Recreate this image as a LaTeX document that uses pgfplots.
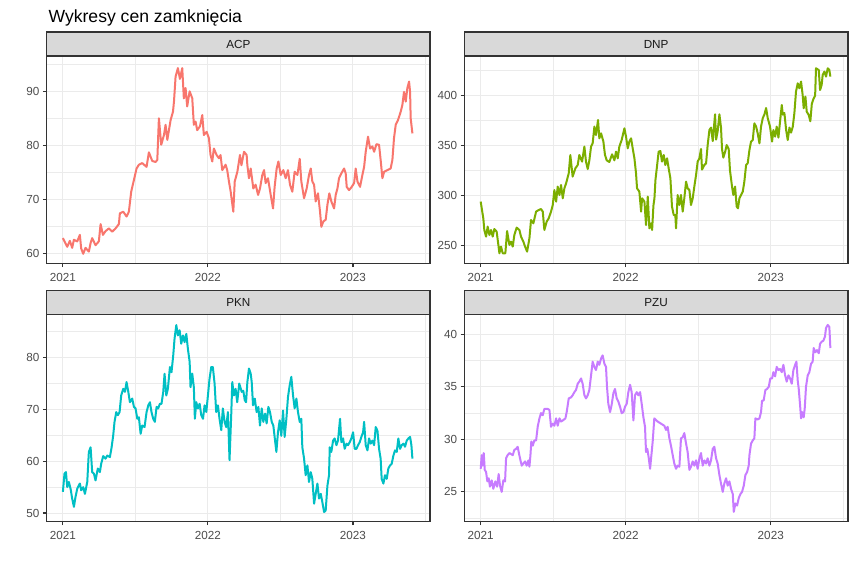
\documentclass[border=0pt]{standalone}
\usepackage{pgfplots}
\pgfplotsset{compat=1.18}
\usepackage{fontspec}
\setmainfont{Liberation Sans}

\definecolor{cACP}{HTML}{F8766D}
\definecolor{cDNP}{HTML}{7CAE00}
\definecolor{cPKN}{HTML}{00BFC4}
\definecolor{cPZU}{HTML}{C77CFF}
\definecolor{gridc}{HTML}{EBEBEB}
\definecolor{framec}{HTML}{333333}
\definecolor{stripc}{HTML}{D9D9D9}
\definecolor{tickc}{HTML}{4D4D4D}

\pgfplotsset{
  panel/.style={
    scale only axis, width=383.6pt, anchor=north west,
    xmin=2020.887, xmax=2023.532,
    xtick={2021,2022,2023}, xticklabels={2021,2022,2023},
    minor xtick={2021.5,2022.5,2023.5},
    xmajorgrids, ymajorgrids, xminorgrids, yminorgrids,
    major grid style={gridc, line width=1pt},
    minor grid style={gridc, line width=0.6pt},
    axis line style={framec, line width=1.3pt},
    tick align=outside, tick pos=left,
    major tick length=3.7pt, minor tick length=0pt,
    every tick/.style={framec, line width=1.1pt},
    tick label style={font=\fontsize{11.7}{13}\selectfont, text=tickc},
    xticklabel shift=2.5pt,
    /pgf/number format/assume math mode=true,
    every axis plot/.append style={no marks, line width=2pt, line join=round},
  },
}

\begin{document}
\begin{tikzpicture}
\useasboundingbox (0,0) rectangle (856pt,-566pt);
\fill[white] (0,0) rectangle (856pt,-566pt);

\node[anchor=base west, font=\fontsize{17.6}{20}\selectfont] at (45pt,-22pt) {Wykresy cen zamknięcia};

% ACP
\begin{axis}[panel, name=acp, at={(46.5pt,-56pt)}, height=207.5pt,
  ymin=58.1, ymax=96.54, ytick={60,70,80,90}, minor ytick={65,75,85,95}]
\addplot[cACP] coordinates {
(2021.000,62.8) (2021.011,62.2) (2021.030,61.2) (2021.048,62.3) (2021.064,61.0) (2021.076,62.5) (2021.099,62.2) (2021.117,63.4) (2021.126,60.9) (2021.140,59.9) (2021.156,61.0) (2021.179,60.3) (2021.191,61.9) (2021.202,62.8) (2021.225,61.5) (2021.248,62.2) (2021.260,65.4) (2021.276,63.4) (2021.294,64.1) (2021.317,64.6) (2021.340,64.0) (2021.363,64.6) (2021.386,65.4) (2021.393,67.4) (2021.416,67.7) (2021.439,66.8) (2021.455,67.7) (2021.471,71.4) (2021.490,73.6) (2021.508,75.7) (2021.524,76.4) (2021.547,76.7) (2021.577,76.0) (2021.593,78.7) (2021.616,77.1) (2021.639,76.9) (2021.651,77.3) (2021.662,85.0) (2021.678,80.1) (2021.697,81.9) (2021.708,83.8) (2021.720,81.0) (2021.743,84.7) (2021.759,86.2) (2021.766,88.1) (2021.777,92.7) (2021.793,94.3) (2021.807,92.3) (2021.823,94.3) (2021.834,88.7) (2021.846,90.6) (2021.857,87.2) (2021.874,90.0) (2021.892,88.7) (2021.903,83.8) (2021.915,84.4) (2021.926,82.8) (2021.945,83.5) (2021.961,85.6) (2021.972,81.9) (2021.991,82.5) (2022.007,81.3) (2022.018,78.2) (2022.030,77.0) (2022.041,79.4) (2022.060,78.2) (2022.076,77.6) (2022.087,78.2) (2022.099,75.4) (2022.122,76.4) (2022.133,75.4) (2022.145,73.3)
(2022.157,71.4) (2022.175,67.7) (2022.185,73.3) (2022.203,75.1) (2022.221,78.2) (2022.231,76.3) (2022.249,78.8) (2022.267,78.2) (2022.272,76.3) (2022.283,73.9) (2022.295,75.7) (2022.313,72.0) (2022.329,72.7) (2022.346,70.8) (2022.359,72.0) (2022.375,74.5) (2022.387,75.4) (2022.398,73.0) (2022.414,73.9) (2022.433,70.8) (2022.449,68.3) (2022.460,72.3) (2022.474,75.7) (2022.486,77.0) (2022.502,74.5) (2022.520,75.4) (2022.536,73.9) (2022.552,75.4) (2022.566,72.7) (2022.582,71.4) (2022.598,75.1) (2022.617,74.5) (2022.633,77.5) (2022.644,73.3) (2022.663,70.2) (2022.681,72.0) (2022.697,74.5) (2022.709,75.7) (2022.720,73.3) (2022.732,72.7) (2022.743,69.6) (2022.759,71.1) (2022.773,67.7) (2022.782,64.9) (2022.796,65.9) (2022.812,66.2) (2022.824,69.0) (2022.837,71.1) (2022.851,69.6) (2022.870,68.3) (2022.881,70.8) (2022.893,72.0) (2022.904,73.9) (2022.920,74.8) (2022.939,75.7) (2022.950,74.8) (2022.957,72.3) (2022.973,71.7) (2022.989,72.2) (2023.008,73.0) (2023.019,75.7) (2023.031,73.3) (2023.049,72.3) (2023.065,74.5) (2023.077,76.0) (2023.088,78.8) (2023.104,81.6) (2023.118,79.4) (2023.134,79.8) (2023.146,78.8) (2023.162,80.2) (2023.180,80.1) (2023.192,77.0) (2023.203,73.9) (2023.215,75.1) (2023.238,75.4) (2023.260,75.7) (2023.272,77.3) (2023.283,81.3) (2023.295,83.8) (2023.311,84.7) (2023.329,86.2) (2023.341,87.5) (2023.352,89.9) (2023.364,88.1) (2023.375,90.6) (2023.387,91.8) (2023.394,89.9) (2023.398,85.0) (2023.410,82.2)
};
\end{axis}

% DNP
\begin{axis}[panel, name=dnp, at={(464.3pt,-56pt)}, height=207.5pt,
  ymin=231.8, ymax=439.3, ytick={250,300,350,400}, minor ytick={275,325,375,425}]
\addplot[cDNP] coordinates {
(2021.000,293.7) (2021.009,285.3) (2021.018,277.0) (2021.025,265.3) (2021.037,258.7) (2021.048,268.7) (2021.060,260.3) (2021.071,265.3) (2021.083,258.7) (2021.094,266.3) (2021.110,263.7) (2021.122,250.3) (2021.129,242.0) (2021.140,248.7) (2021.152,242.0) (2021.170,242.0) (2021.182,264.3) (2021.198,250.3) (2021.209,253.7) (2021.221,248.7) (2021.232,260.3) (2021.248,267.7) (2021.267,265.3) (2021.278,258.7) (2021.294,253.7) (2021.306,248.7) (2021.320,243.7) (2021.336,257.0) (2021.347,275.3) (2021.363,272.0) (2021.382,283.7) (2021.400,285.3) (2021.416,286.3) (2021.428,283.7) (2021.439,265.3) (2021.455,273.7) (2021.469,277.0) (2021.485,283.7) (2021.497,290.3) (2021.508,305.3) (2021.520,293.7) (2021.531,308.7) (2021.543,300.3) (2021.554,310.3) (2021.566,297.0) (2021.577,307.0) (2021.589,312.0) (2021.607,322.0) (2021.618,340.3) (2021.634,318.7) (2021.653,327.0) (2021.669,330.3) (2021.680,340.3) (2021.699,333.7) (2021.715,348.7) (2021.726,333.7) (2021.738,326.3) (2021.749,334.7) (2021.761,348.7) (2021.772,352.0) (2021.784,368.7) (2021.795,360.3) (2021.809,375.3) (2021.818,357.0) (2021.830,362.0) (2021.846,353.7) (2021.857,340.3) (2021.869,335.0) (2021.887,333.3) (2021.906,341.0) (2021.922,335.0) (2021.933,343.7) (2021.945,337.0) (2021.956,348.7) (2021.972,355.3) (2021.991,367.0) (2022.002,358.7) (2022.014,347.0) (2022.025,353.7) (2022.037,357.0) (2022.048,347.0) (2022.060,337.0) (2022.071,322.0) (2022.078,307.0) (2022.094,303.7) (2022.106,283.7) (2022.113,297.0) (2022.129,293.7) (2022.140,270.3) (2022.152,298.7) (2022.163,267.0) (2022.175,272.0) (2022.182,265.3) (2022.191,289.7)
(2022.198,297.0) (2022.205,315.3) (2022.218,332.0) (2022.227,343.7) (2022.239,344.3) (2022.250,333.7) (2022.262,340.3) (2022.273,330.3) (2022.285,337.0) (2022.296,327.0) (2022.308,317.0) (2022.319,288.7) (2022.331,280.3) (2022.342,280.3) (2022.347,267.0) (2022.358,300.3) (2022.370,290.3) (2022.381,300.3) (2022.393,283.7) (2022.404,297.0) (2022.416,313.7) (2022.427,307.0) (2022.439,305.3) (2022.450,290.3) (2022.462,297.0) (2022.473,308.7) (2022.485,320.3) (2022.496,333.7) (2022.508,337.0) (2022.519,346.3) (2022.526,325.7) (2022.542,330.3) (2022.554,332.0) (2022.565,350.3) (2022.577,365.3) (2022.588,367.7) (2022.600,354.3) (2022.616,381.0) (2022.623,355.7) (2022.634,364.0) (2022.646,381.0) (2022.657,367.7) (2022.664,346.3) (2022.673,337.7) (2022.687,344.3) (2022.696,350.3) (2022.710,346.3) (2022.719,324.7) (2022.733,308.7) (2022.742,300.3) (2022.754,308.7) (2022.765,288.7) (2022.774,287.0) (2022.784,297.0) (2022.795,300.3) (2022.807,303.7) (2022.818,313.7) (2022.830,330.3) (2022.841,332.0) (2022.853,345.3) (2022.864,353.7) (2022.876,355.3) (2022.887,372.0) (2022.899,368.7) (2022.910,362.0) (2022.922,352.0) (2022.933,368.7) (2022.945,377.3) (2022.956,380.7) (2022.968,387.3) (2022.979,377.3) (2022.995,368.7) (2023.009,353.7) (2023.018,365.3) (2023.030,358.7) (2023.041,368.7) (2023.053,357.7) (2023.064,373.7) (2023.076,390.3) (2023.083,380.7) (2023.094,382.3) (2023.106,365.3) (2023.117,355.3) (2023.129,367.7) (2023.140,362.7) (2023.152,368.7) (2023.163,382.3) (2023.174,403.7) (2023.186,412.0) (2023.197,407.0) (2023.209,413.7) (2023.220,400.3) (2023.227,387.0) (2023.239,398.7) (2023.248,383.7) (2023.262,380.3) (2023.273,374.0) (2023.283,391.3) (2023.294,396.3) (2023.306,399.7) (2023.312,427.0) (2023.331,425.3) (2023.340,405.3) (2023.351,410.3) (2023.358,420.3) (2023.370,423.7) (2023.381,418.7) (2023.393,427.0) (2023.404,425.3) (2023.411,418.7)
};
\end{axis}

% PKN
\begin{axis}[panel, name=pkn, at={(46.5pt,-314.7pt)}, height=206.6pt,
  ymin=48.4, ymax=88.3, ytick={50,60,70,80}, minor ytick={55,65,75,85}]
\addplot[cPKN] coordinates {
(2021.000,54.1) (2021.011,57.6) (2021.021,57.9) (2021.030,55.0) (2021.041,56.0) (2021.053,54.7) (2021.064,52.8) (2021.076,51.2) (2021.087,53.1) (2021.099,54.7) (2021.117,55.7) (2021.126,54.4) (2021.140,55.0) (2021.152,53.7) (2021.168,56.0) (2021.179,61.8) (2021.191,62.7) (2021.202,57.9) (2021.214,57.6) (2021.225,56.3) (2021.241,58.6) (2021.255,57.9) (2021.264,59.5) (2021.278,61.0) (2021.294,60.5) (2021.306,61.1) (2021.324,60.8) (2021.336,62.7) (2021.347,65.0) (2021.356,67.6) (2021.368,69.5) (2021.379,68.9) (2021.391,69.5) (2021.402,72.7) (2021.416,74.0) (2021.428,73.4) (2021.439,75.3) (2021.451,73.4) (2021.462,71.4) (2021.478,72.1) (2021.490,70.5) (2021.501,70.2) (2021.513,68.2) (2021.524,68.5) (2021.536,65.3) (2021.547,66.9) (2021.563,66.6) (2021.577,69.5) (2021.589,70.8) (2021.600,71.4) (2021.611,69.5) (2021.623,68.2) (2021.634,67.6) (2021.646,70.5) (2021.657,70.2) (2021.669,71.1) (2021.680,71.1) (2021.692,73.4) (2021.701,76.9) (2021.713,72.7) (2021.724,74.0) (2021.738,78.2) (2021.749,77.2) (2021.761,80.5) (2021.770,83.7) (2021.782,86.3) (2021.793,84.3) (2021.805,85.3) (2021.816,82.7) (2021.828,84.3) (2021.839,83.0) (2021.851,84.6) (2021.862,81.7) (2021.874,79.2) (2021.880,74.3) (2021.892,76.9) (2021.903,74.3) (2021.910,68.2) (2021.920,71.4) (2021.931,70.2) (2021.943,71.1) (2021.954,68.9) (2021.966,68.2) (2021.977,70.8) (2021.989,69.5) (2022.000,72.7) (2022.011,75.9) (2022.023,78.2) (2022.034,78.2) (2022.046,75.0) (2022.057,69.5) (2022.069,70.8) (2022.080,68.2) (2022.092,66.0) (2022.103,70.2) (2022.115,67.6) (2022.126,66.6) (2022.138,69.5) (2022.149,60.2) (2022.161,69.2) (2022.168,75.3) (2022.179,72.7) (2022.191,74.0) (2022.202,71.4) (2022.216,75.0)
(2022.233,73.4) (2022.244,73.6) (2022.254,71.8) (2022.263,71.4) (2022.272,75.3) (2022.283,77.9) (2022.295,76.9) (2022.302,75.3) (2022.311,70.8) (2022.323,72.1) (2022.336,69.5) (2022.348,70.5) (2022.359,66.9) (2022.371,70.2) (2022.382,67.6) (2022.394,69.2) (2022.405,67.3) (2022.417,70.5) (2022.428,69.5) (2022.440,67.6) (2022.451,66.9) (2022.460,64.7) (2022.472,61.8) (2022.483,65.6) (2022.495,67.9) (2022.506,64.9) (2022.518,69.8) (2022.529,64.7) (2022.541,68.2) (2022.552,72.4) (2022.564,74.7) (2022.575,76.3) (2022.587,72.7) (2022.598,70.2) (2022.610,72.1) (2022.621,69.5) (2022.633,67.6) (2022.644,68.2) (2022.651,62.7) (2022.663,60.5) (2022.674,57.3) (2022.686,59.2) (2022.697,56.0) (2022.709,57.9) (2022.720,56.6) (2022.732,51.8) (2022.743,53.7) (2022.755,55.7) (2022.766,52.8) (2022.778,53.7) (2022.789,52.1) (2022.801,50.2) (2022.812,50.5) (2022.824,55.3) (2022.835,57.3) (2022.840,62.7) (2022.851,61.8) (2022.863,64.0) (2022.874,64.4) (2022.886,63.1) (2022.897,64.0) (2022.911,68.2) (2022.920,63.7) (2022.932,64.4) (2022.943,62.4) (2022.955,63.4) (2022.966,63.1) (2022.978,63.7) (2022.989,64.4) (2023.001,65.6) (2023.012,62.4) (2023.024,62.4) (2023.035,63.1) (2023.047,63.7) (2023.058,64.7) (2023.070,65.6) (2023.077,67.6) (2023.088,63.1) (2023.100,62.1) (2023.111,64.4) (2023.123,63.4) (2023.134,64.0) (2023.146,63.1) (2023.157,66.6) (2023.169,65.9) (2023.180,62.4) (2023.191,60.5) (2023.198,56.6) (2023.210,55.7) (2023.221,57.3) (2023.233,56.6) (2023.244,58.6) (2023.256,59.2) (2023.267,59.5) (2023.279,61.1) (2023.290,62.1) (2023.302,61.8) (2023.313,64.4) (2023.325,62.4) (2023.336,63.1) (2023.348,63.4) (2023.359,62.8) (2023.371,64.0) (2023.382,64.4) (2023.394,64.7) (2023.403,63.1) (2023.410,60.5)
};
\end{axis}

% PZU
\begin{axis}[panel, name=pzu, at={(464.3pt,-314.7pt)}, height=206.6pt,
  ymin=22.2, ymax=41.87, ytick={25,30,35,40}, minor ytick={22.5,27.5,32.5,37.5}]
\addplot[cPZU] coordinates {
(2021.000,27.2) (2021.007,28.5) (2021.014,27.5) (2021.021,28.7) (2021.028,27.1) (2021.037,26.9) (2021.046,26.0) (2021.055,26.3) (2021.064,25.5) (2021.076,26.1) (2021.087,25.3) (2021.101,26.0) (2021.113,25.5) (2021.124,26.7) (2021.133,25.6) (2021.145,25.0) (2021.156,26.1) (2021.168,26.0) (2021.175,28.2) (2021.186,28.5) (2021.198,28.7) (2021.221,28.5) (2021.232,29.0) (2021.244,29.1) (2021.255,29.3) (2021.262,28.8) (2021.271,28.2) (2021.283,27.5) (2021.294,27.7) (2021.306,27.9) (2021.317,27.5) (2021.329,28.0) (2021.336,27.4) (2021.343,28.5) (2021.349,29.8) (2021.359,29.4) (2021.370,29.9) (2021.382,29.9) (2021.393,31.2) (2021.405,32.0) (2021.416,32.5) (2021.428,32.3) (2021.439,32.9) (2021.451,32.9) (2021.462,32.9) (2021.474,32.8) (2021.485,31.2) (2021.497,31.5) (2021.508,31.3) (2021.520,32.0) (2021.531,31.3) (2021.543,32.0) (2021.554,31.7) (2021.566,31.8) (2021.584,32.0) (2021.593,32.6) (2021.607,33.9) (2021.623,34.0) (2021.634,34.2) (2021.646,34.5) (2021.657,34.7) (2021.669,35.3) (2021.680,35.5) (2021.692,35.8) (2021.703,35.3) (2021.715,34.2) (2021.726,33.9) (2021.738,34.2) (2021.749,34.7) (2021.761,36.1) (2021.772,37.4) (2021.784,36.9) (2021.795,36.6) (2021.807,37.4) (2021.818,37.1) (2021.830,37.7) (2021.841,38.0) (2021.853,37.2) (2021.864,36.9) (2021.871,35.0) (2021.880,33.4) (2021.892,32.6) (2021.903,33.3) (2021.915,34.4) (2021.926,34.8) (2021.938,33.9) (2021.949,33.6) (2021.961,33.1) (2021.972,32.5) (2021.984,32.6) (2021.995,33.1) (2022.007,33.4) (2022.018,34.5) (2022.030,35.2) (2022.041,34.5) (2022.053,31.8) (2022.064,34.2) (2022.076,34.5) (2022.087,34.2) (2022.099,34.5) (2022.110,33.4) (2022.122,32.1) (2022.133,31.2) (2022.140,28.8) (2022.149,29.1) (2022.159,28.2) (2022.168,27.2) (2022.177,28.5) (2022.186,29.8)
(2022.197,32.0) (2022.220,31.7) (2022.266,31.3) (2022.278,30.9) (2022.289,31.2) (2022.301,30.1) (2022.312,29.4) (2022.324,28.5) (2022.335,27.7) (2022.347,27.2) (2022.358,27.5) (2022.370,27.4) (2022.381,30.1) (2022.393,30.2) (2022.404,30.6) (2022.416,29.6) (2022.427,28.8) (2022.439,27.1) (2022.450,27.4) (2022.462,27.9) (2022.473,27.5) (2022.485,28.0) (2022.496,27.2) (2022.508,28.2) (2022.519,28.7) (2022.531,27.5) (2022.542,28.0) (2022.554,27.7) (2022.565,28.2) (2022.577,27.5) (2022.588,28.0) (2022.600,29.1) (2022.611,29.3) (2022.623,28.2) (2022.634,27.7) (2022.646,26.6) (2022.657,25.8) (2022.669,25.0) (2022.680,25.8) (2022.692,26.3) (2022.703,25.6) (2022.715,26.0) (2022.726,25.3) (2022.738,24.8) (2022.745,23.1) (2022.756,23.9) (2022.768,23.7) (2022.779,24.4) (2022.791,24.8) (2022.802,25.0) (2022.814,25.6) (2022.825,26.6) (2022.837,26.9) (2022.848,27.5) (2022.853,28.5) (2022.864,29.6) (2022.876,29.9) (2022.887,30.1) (2022.894,32.0) (2022.910,31.9) (2022.922,32.0) (2022.933,32.6) (2022.940,33.7) (2022.951,33.7) (2022.963,34.7) (2022.974,34.8) (2022.986,35.0) (2022.997,35.8) (2023.009,35.8) (2023.018,36.4) (2023.030,36.0) (2023.041,36.9) (2023.053,36.6) (2023.064,36.7) (2023.076,36.4) (2023.087,37.1) (2023.099,36.1) (2023.110,35.5) (2023.122,36.1) (2023.133,35.8) (2023.145,35.3) (2023.156,36.6) (2023.168,37.1) (2023.177,37.4) (2023.186,35.6) (2023.193,34.8) (2023.202,33.3) (2023.209,32.0) (2023.216,32.6) (2023.227,32.1) (2023.234,32.9) (2023.243,35.0) (2023.255,36.1) (2023.266,36.4) (2023.278,37.2) (2023.289,37.4) (2023.296,38.7) (2023.308,38.3) (2023.319,38.5) (2023.331,38.2) (2023.340,39.1) (2023.351,39.3) (2023.363,39.4) (2023.374,39.8) (2023.381,40.6) (2023.393,40.9) (2023.404,40.7) (2023.411,38.7)
};
\end{axis}

% facet strips
\foreach \ax/\lab in {acp/ACP, dnp/DNP, pkn/PKN, pzu/PZU}{
  \draw[fill=stripc, draw=framec, line width=1.3pt] (\ax.north west) rectangle ([yshift=24pt]\ax.north east);
  \node[text=black!90, font=\fontsize{11.7}{13}\selectfont] at ([yshift=12pt]\ax.north) {\lab};
}
\end{tikzpicture}
\end{document}
